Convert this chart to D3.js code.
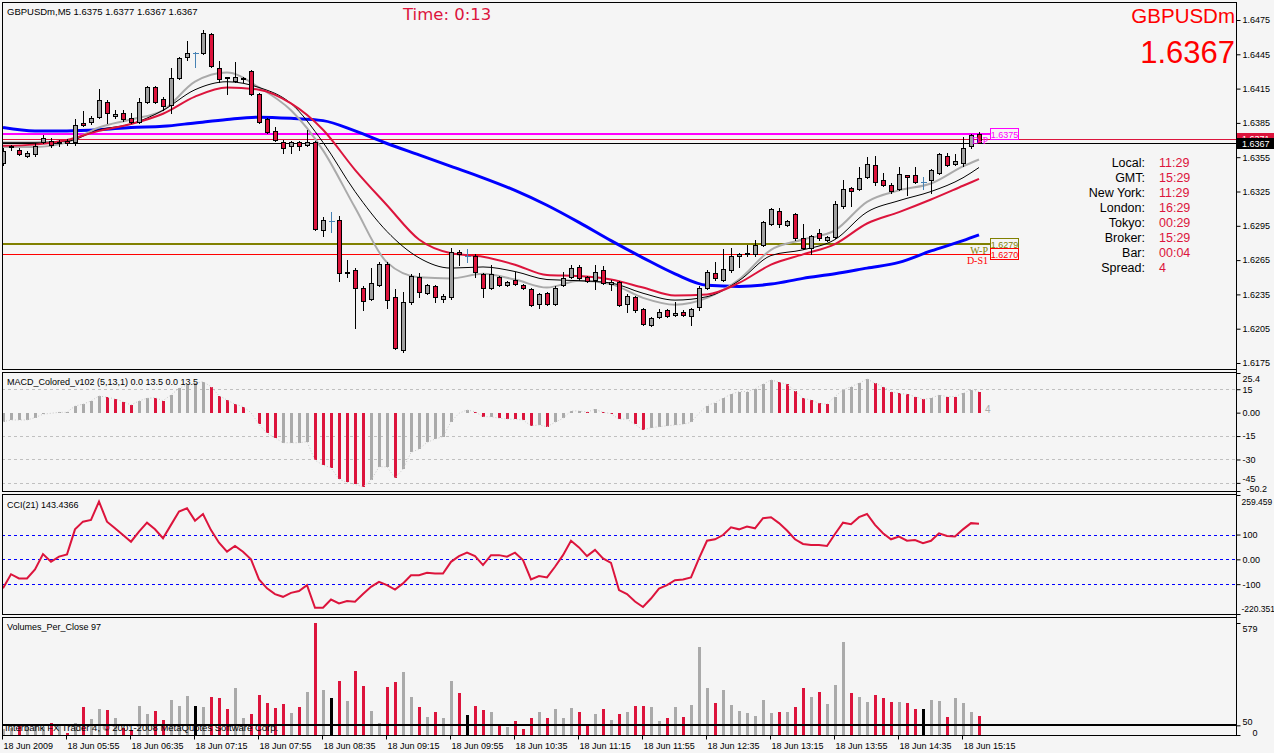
<!DOCTYPE html>
<html>
<head>
<meta charset="utf-8">
<title>GBPUSDm,M5</title>
<script src="https://cdn.jsdelivr.net/npm/d3@7"></script>
<style>
  html, body { margin: 0; padding: 0; background: #f5f5f5; }
  svg { display: block; }
  text { font-family: "Liberation Sans", Arial, sans-serif; }
  .axis text { font-size: 9px; fill: #000; }
  .axis line { stroke: #000; }
</style>
</head>
<body>
<div id="chart"></div>
<script>
// ---------------- data ----------------
const symbol = "GBPUSDm";
const headerText = "GBPUSDm,M5  1.6375 1.6377 1.6367 1.6367";
const timerText = "Time: 0:13";
const bid = 1.6367;
const ask = 1.6371;

// M5 candles [open, high, low, close], 18 Jun 2009 05:15 .. 15:25
const candles = [
  [1.6350,1.6363,1.6348,1.6360],[1.6364,1.6366,1.6361,1.6365],[1.6361,1.6363,1.6357,1.6358],[1.6356,1.6360,1.6355,1.6359],
  [1.6358,1.6367,1.6356,1.6365],[1.6368,1.6374,1.6367,1.6372],[1.6369,1.6372,1.6364,1.6366],[1.6367,1.6370,1.6365,1.6368],
  [1.6369,1.6371,1.6366,1.6367],[1.6368,1.6388,1.6366,1.6383],[1.6385,1.6395,1.6382,1.6383],[1.6386,1.6391,1.6384,1.6389],
  [1.6390,1.6415,1.6389,1.6405],[1.6403,1.6405,1.6385,1.6394],[1.6391,1.6396,1.6389,1.6393],[1.6394,1.6396,1.6387,1.6388],
  [1.6389,1.6394,1.6385,1.6386],[1.6386,1.6407,1.6385,1.6403],[1.6403,1.6417,1.6402,1.6416],[1.6416,1.6417,1.6402,1.6403],
  [1.6406,1.6408,1.6396,1.6400],[1.6401,1.6433,1.6394,1.6424],[1.6424,1.6443,1.6423,1.6442],[1.6443,1.6457,1.6440,1.6446],
  [1.6446,1.6447,1.6434,1.6446],[1.6446,1.6466,1.6445,1.6464],[1.6463,1.6464,1.6434,1.6435],[1.6433,1.6439,1.6421,1.6423],
  [1.6425,1.6425,1.6410,1.6424],[1.6422,1.6438,1.6421,1.6425],[1.6423,1.6425,1.6421,1.6424],[1.6430,1.6431,1.6409,1.6410],
  [1.6410,1.6411,1.6385,1.6386],[1.6388,1.6389,1.6376,1.6377],[1.6378,1.6381,1.6369,1.6370],[1.6368,1.6370,1.6359,1.6363],
  [1.6365,1.6369,1.6359,1.6368],[1.6368,1.6369,1.6361,1.6365],[1.6366,1.6379,1.6365,1.6368],[1.6368,1.6369,1.6291,1.6292],
  [1.6291,1.6303,1.6286,1.6300],[1.6299,1.6307,1.6290,1.6299],[1.6300,1.6304,1.6247,1.6254],[1.6254,1.6265,1.6250,1.6255],
  [1.6256,1.6258,1.6206,1.6241],[1.6241,1.6242,1.6221,1.6229],[1.6231,1.6258,1.6230,1.6245],[1.6243,1.6263,1.6242,1.6262],
  [1.6262,1.6263,1.6223,1.6230],[1.6233,1.6240,1.6187,1.6188],[1.6186,1.6237,1.6185,1.6228],[1.6228,1.6253,1.6227,1.6251],
  [1.6250,1.6254,1.6233,1.6237],[1.6236,1.6244,1.6235,1.6243],[1.6242,1.6243,1.6228,1.6233],[1.6231,1.6235,1.6228,1.6234],
  [1.6233,1.6276,1.6231,1.6272],[1.6272,1.6274,1.6261,1.6270],[1.6269,1.6275,1.6263,1.6269],[1.6269,1.6270,1.6250,1.6255],
  [1.6253,1.6254,1.6233,1.6241],[1.6241,1.6261,1.6240,1.6253],[1.6250,1.6251,1.6242,1.6243],[1.6243,1.6247,1.6242,1.6246],
  [1.6248,1.6255,1.6243,1.6244],[1.6243,1.6244,1.6240,1.6241],[1.6240,1.6241,1.6225,1.6226],[1.6227,1.6236,1.6223,1.6235],
  [1.6236,1.6237,1.6226,1.6227],[1.6227,1.6242,1.6226,1.6241],[1.6243,1.6255,1.6242,1.6249],[1.6250,1.6261,1.6249,1.6258],
  [1.6259,1.6261,1.6248,1.6249],[1.6250,1.6251,1.6246,1.6247],[1.6248,1.6261,1.6240,1.6255],[1.6256,1.6260,1.6244,1.6245],
  [1.6244,1.6248,1.6239,1.6246],[1.6246,1.6247,1.6225,1.6226],[1.6227,1.6235,1.6220,1.6234],[1.6233,1.6234,1.6220,1.6221],
  [1.6222,1.6223,1.6208,1.6209],[1.6208,1.6215,1.6207,1.6214],[1.6215,1.6222,1.6214,1.6220],[1.6221,1.6222,1.6215,1.6216],
  [1.6217,1.6228,1.6216,1.6219],[1.6220,1.6221,1.6216,1.6217],[1.6216,1.6223,1.6208,1.6222],[1.6224,1.6242,1.6221,1.6241],
  [1.6241,1.6256,1.6240,1.6255],[1.6254,1.6263,1.6248,1.6249],[1.6248,1.6275,1.6247,1.6257],[1.6256,1.6276,1.6255,1.6269],
  [1.6269,1.6271,1.6259,1.6270],[1.6270,1.6278,1.6269,1.6271],[1.6270,1.6283,1.6269,1.6278],[1.6278,1.6299,1.6277,1.6298],
  [1.6297,1.6311,1.6296,1.6310],[1.6308,1.6311,1.6294,1.6297],[1.6296,1.6300,1.6295,1.6299],[1.6305,1.6306,1.6283,1.6284],
  [1.6284,1.6297,1.6275,1.6276],[1.6276,1.6287,1.6270,1.6286],[1.6289,1.6292,1.6283,1.6284],[1.6283,1.6286,1.6282,1.6285],
  [1.6285,1.6317,1.6284,1.6314],[1.6312,1.6335,1.6311,1.6327],[1.6328,1.6329,1.6312,1.6325],[1.6327,1.6346,1.6326,1.6337],
  [1.6338,1.6355,1.6337,1.6349],[1.6348,1.6356,1.6331,1.6333],[1.6335,1.6341,1.6330,1.6331],[1.6331,1.6332,1.6324,1.6325],
  [1.6327,1.6346,1.6326,1.6340],[1.6339,1.6339,1.6322,1.6338],[1.6339,1.6346,1.6332,1.6333],[1.6333,1.6338,1.6327,1.6333],
  [1.6335,1.6345,1.6324,1.6344],[1.6341,1.6359,1.6340,1.6358],[1.6356,1.6359,1.6347,1.6348],[1.6349,1.6358,1.6348,1.6352],
  [1.6350,1.6373,1.6347,1.6363],[1.6365,1.6375,1.6363,1.6374],[1.6375,1.6377,1.6367,1.6367]
];

// moving averages, read every 4th bar
const maIndex = [0,4,8,12,16,20,24,28,32,36,40,44,48,52,56,60,64,68,72,76,80,84,88,92,96,100,104,108,112,116,120,122];
const maFast = [1.6364,1.6364,1.6368,1.6381,1.6388,1.6396,1.6421,1.6429,1.6416,1.6396,1.6361,1.6311,1.6263,1.6250,1.6249,1.6253,
                1.6248,1.6241,1.6247,1.6244,1.6232,1.6226,1.6232,1.6248,1.6274,1.6283,1.6291,1.6316,1.6326,1.6332,1.6347,1.6353];
const maMid  = [1.6368,1.6368,1.6369,1.6379,1.6384,1.6396,1.6414,1.6421,1.6416,1.6402,1.6368,1.6325,1.6290,1.6267,1.6258,1.6259,
                1.6255,1.6248,1.6247,1.6245,1.6236,1.6230,1.6233,1.6247,1.6269,1.6274,1.6283,1.6307,1.6317,1.6325,1.6337,1.6346];
const maSlow = [1.6365,1.6366,1.6370,1.6378,1.6384,1.6393,1.6408,1.6416,1.6414,1.6402,1.6379,1.6344,1.6313,1.6283,1.6271,1.6268,
                1.6261,1.6252,1.6251,1.6248,1.6241,1.6234,1.6235,1.6245,1.6261,1.6270,1.6279,1.6297,1.6307,1.6318,1.6330,1.6336];
const maLong = [1.6381,1.6378,1.6378,1.6379,1.6381,1.6382,1.6385,1.6388,1.6390,1.6389,1.6387,1.6378,1.6367,1.6357,1.6347,1.6337,
                1.6326,1.6313,1.6298,1.6282,1.6267,1.6253,1.6243,1.6242,1.6244,1.6249,1.6253,1.6258,1.6263,1.6273,1.6282,1.6287];

const pivotNames = ["D-P", "W-P", "D-S1"];
const pivotValues = [1.6375, 1.6279, 1.6270];

const priceTicks = [1.6475,1.6445,1.6415,1.6385,1.6355,1.6325,1.6295,1.6265,1.6235,1.6205,1.6175];

const macd = [
  -5.8,-4.7,-4.7,-4.7,-3.2,-1.0,-0.4,0.2,0.2,4.3,
  5.4,7.5,10.7,9.9,8.8,7.1,4.9,7.5,9.2,9.6,
  7.7,11.3,15.6,17.8,18.8,19.9,16.7,10.9,8.1,5.4,
  3.9,0.0,-7.5,-13.3,-16.1,-19.3,-19.3,-19.3,-18.6,-30.4,
  -33.6,-35.3,-42.6,-44.7,-46.0,-47.5,-43.3,-34.7,-34.7,-41.8,
  -36.2,-25.5,-23.3,-19.1,-16.9,-15.4,-5.8,-0.4,1.7,0.6,
  -2.6,-2.6,-3.6,-4.1,-4.3,-4.7,-8.4,-7.9,-9.0,-6.2,
  -3.6,1.1,1.1,0.4,2.1,0.2,-0.6,-4.3,-4.1,-7.5,
  -11.1,-9.6,-9.0,-8.4,-7.9,-7.5,-6.2,-0.4,4.5,6.4,
  9.2,11.8,13.5,13.5,15.2,18.2,21.0,19.5,18.2,13.9,
  9.2,8.1,6.0,5.4,10.3,14.6,16.7,18.8,21.6,18.8,
  16.7,13.5,12.4,11.8,10.3,8.6,9.2,11.3,10.3,10.3,
  12.4,14.6,13.5
];
// u = rising (grey), d = falling (red)
const macdDir = "uuuuuuduuu" + "uuudddduud" + "duuuuudddd" + "ddddduuuud" + "dddddduuud" +
                "uuuuuuuuud" + "dudddddudu" + "uuududddud" + "duuuuuuuuu" + "uuuuuuuddd" +
                "dddduuuuud" + "dddddduudd" + "uud";
const macdTicks = [25.4, 15, 0, -15, -30, -45, -50.2];
const macdTickLabels = ["25.4", "15", "0.00", "-15", "-30", "-45", "-50.2"];
const macdLevels = [15, -15, -30, -45];

const cci = [
  -117,-60,-77,-77,-41,21,-10,11,20,121,
  152,159,233,152,125,98,71,112,148,121,
  85,139,193,206,156,183,118,67,31,54,
  31,0,-81,-117,-140,-151,-135,-128,-104,-195,
  -195,-162,-178,-168,-171,-140,-111,-91,-104,-122,
  -97,-64,-64,-54,-57,-57,-10,13,27,13,
  -23,17,17,11,27,-3,-81,-67,-73,-30,
  17,75,48,13,38,4,-14,-124,-140,-170,
  -192,-158,-118,-104,-84,-81,-73,4,75,81,
  98,129,121,132,125,166,170,146,116,81,
  62,58,58,54,102,148,142,170,183,139,
  105,81,92,75,78,65,75,105,94,92,
  121,146,143.4
];
const cciTicks = [259.459, 100, 0, -100, -220.351];
const cciTickLabels = ["259.459", "100", "0.00", "-100", "-220.351"];
const cciLevels = [100, 0, -100];

const volumes = [
  30,35,52,40,45,40,60,45,9,60,
  146,83,134,129,90,34,26,150,109,126,
  78,181,152,202,150,146,196,193,133,243,
  86,109,207,165,141,160,115,146,224,579,
  233,191,279,176,331,253,124,60,250,274,
  326,198,146,95,119,88,279,217,103,150,
  129,117,57,43,72,31,88,119,86,134,
  86,140,119,57,109,134,78,109,119,150,
  150,146,72,88,146,93,155,455,243,165,
  233,155,124,114,98,181,114,119,119,145,
  243,198,222,160,258,481,217,198,171,207,
  191,171,169,167,134,134,181,176,95,191,
  165,119,98
];
const volTicks = [579, 50, 0];
const volLevel = 50;

const timeTickIndex = [0,8,16,24,32,40,48,56,64,72,80,88,96,104,112,120];
const timeTickLabels = ["18 Jun 2009","18 Jun 05:55","18 Jun 06:35","18 Jun 07:15","18 Jun 07:55","18 Jun 08:35",
  "18 Jun 09:15","18 Jun 09:55","18 Jun 10:35","18 Jun 11:15","18 Jun 11:55","18 Jun 12:35","18 Jun 13:15",
  "18 Jun 13:55","18 Jun 14:35","18 Jun 15:15"];

const infoLabels = ["Local:", "GMT:", "New York:", "London:", "Tokyo:", "Broker:", "Bar:", "Spread:"];
const infoValues = ["11:29", "15:29", "11:29", "16:29", "00:29", "15:29", "00:04", "4"];

const macdTitle = "MACD_Colored_v102 (5,13,1) 0.0 13.5 0.0 13.5";
const cciTitle = "CCI(21) 143.4366";
const volTitle = "Volumes_Per_Close 97";
const copyright = "Interbank FX Trader 4, \u00a9 2001-2008 MetaQuotes Software Corp.";

// ---------------- layout ----------------
const W = 1274, H = 753;
const left = 2, right = 1236;
const panels = {
  main: { top: 2, bottom: 369 },
  macd: { top: 372, bottom: 491 },
  cci:  { top: 494, bottom: 614 },
  vol:  { top: 617, bottom: 735 }
};
const CRIMSON = "#dc143c", BG = "#f5f5f5";

const svg = d3.select("#chart").append("svg")
  .attr("width", W).attr("height", H)
  .style("background", BG);

const x = d3.scaleLinear().domain([0, 122]).range([3, 979]);
const yPrice = d3.scaleLinear().domain([1.6175, 1.6475]).range([363, 20]);
const yMacd = d3.scaleLinear().domain([-50.2, 25.4]).range([491, 373]);
const yCci = d3.scaleLinear().domain([-220.351, 259.459]).range([614, 495]);
const yVol = d3.scaleLinear().domain([0, 579]).range([735, 623]);

// clip paths
const defs = svg.append("defs");
Object.entries(panels).forEach(([k, p]) => {
  defs.append("clipPath").attr("id", "clip-" + k)
    .append("rect").attr("x", left + 1).attr("y", p.top + 1)
    .attr("width", right - left - 1).attr("height", p.bottom - p.top - 1);
});
const layer = k => svg.append("g").attr("clip-path", `url(#clip-${k})`);

// panel frames
Object.values(panels).forEach(p => {
  svg.append("rect")
    .attr("x", left + 0.5).attr("y", p.top + 0.5)
    .attr("width", right - left).attr("height", p.bottom - p.top)
    .attr("fill", BG).attr("stroke", "#000").attr("shape-rendering", "crispEdges");
});

// ---------------- main panel ----------------
const main = layer("main");

// bid / ask lines
main.append("line").attr("x1", left).attr("x2", right)
  .attr("y1", Math.round(yPrice(ask)) + 0.5).attr("y2", Math.round(yPrice(ask)) + 0.5)
  .attr("stroke", CRIMSON);
main.append("line").attr("x1", left).attr("x2", right)
  .attr("y1", Math.round(yPrice(bid)) + 0.5).attr("y2", Math.round(yPrice(bid)) + 0.5)
  .attr("stroke", "#000");

// pivot lines
const pivotColor = { "D-P": "#ff00ff", "W-P": "#808000", "D-S1": "#ff0000" };
const pivotWidth = { "D-P": 2, "W-P": 2, "D-S1": 1 };
pivotNames.forEach((n, k) => {
  const yy = Math.round(yPrice(pivotValues[k])) + (pivotWidth[n] === 1 ? 0.5 : 0);
  main.append("line").attr("x1", left).attr("x2", 990)
    .attr("y1", yy).attr("y2", yy)
    .attr("stroke", pivotColor[n]).attr("stroke-width", pivotWidth[n]);
});

// moving averages
const maLine = d3.line()
  .x((d, k) => x(maIndex[k]))
  .y(d => yPrice(d))
  .curve(d3.curveMonotoneX);
[[maLong, "#0000ff", 3], [maFast, "#aaaaaa", 2], [maMid, "#000", 1], [maSlow, CRIMSON, 2]]
  .forEach(([vals, col, w]) => {
    main.append("path").datum(vals).attr("d", maLine)
      .attr("fill", "none").attr("stroke", col).attr("stroke-width", w);
  });

// candles
const cg = main.append("g").attr("shape-rendering", "crispEdges");
candles.forEach((c, i) => {
  const [o, h, l, cl] = c;
  const cx = Math.round(x(i)) + 0.5;
  const doji = o === cl;
  cg.append("line").attr("x1", cx).attr("x2", cx)
    .attr("y1", yPrice(h)).attr("y2", yPrice(l) + 1)
    .attr("stroke", doji ? "steelblue" : "#000");
  if (doji) {
    cg.append("line").attr("x1", cx - 3).attr("x2", cx + 3)
      .attr("y1", Math.round(yPrice(o)) + 0.5).attr("y2", Math.round(yPrice(o)) + 0.5)
      .attr("stroke", "steelblue");
  } else {
    const top = Math.round(yPrice(Math.max(o, cl)));
    const bot = Math.round(yPrice(Math.min(o, cl)));
    cg.append("rect").attr("x", cx - 2).attr("y", top + 0.5)
      .attr("width", 4).attr("height", Math.max(bot - top, 1))
      .attr("fill", cl > o ? "#a0a0a0" : CRIMSON)
      .attr("stroke", "#000");
  }
});

// pivot labels
pivotNames.forEach((n, k) => {
  const yy = yPrice(pivotValues[k]);
  svg.append("text").attr("x", 988).attr("y", yy + 10)
    .attr("text-anchor", "end").attr("fill", pivotColor[n])
    .style("font-family", '"Liberation Serif", "Times New Roman", serif')
    .style("font-size", "10px").text(n);
  svg.append("rect").attr("x", 990.5).attr("y", Math.round(yy) - 5.5)
    .attr("width", 28).attr("height", 11)
    .attr("fill", BG).attr("stroke", pivotColor[n]);
  svg.append("text").attr("x", 1004.5).attr("y", Math.round(yy) + 3.5)
    .attr("text-anchor", "middle").attr("fill", pivotColor[n])
    .style("font-size", "9px").text(pivotValues[k].toFixed(4));
});

// price axis
const priceAxis = svg.append("g").attr("class", "axis")
  .attr("transform", `translate(${right + 0.5},0)`)
  .call(d3.axisRight(yPrice).tickValues(priceTicks).tickFormat(d3.format(".4f")).tickSize(4).tickPadding(2));
priceAxis.select(".domain").remove();

// bid / ask axis labels (ask sits just above, mostly covered by the bid box)
[[ask, CRIMSON, -1], [bid, "#000", 0]].forEach(([v, col, shift]) => {
  const yy = Math.round(yPrice(v)) + shift;
  svg.append("rect").attr("x", right + 1).attr("y", yy - 5)
    .attr("width", W - right - 1).attr("height", 11).attr("fill", col);
  svg.append("text").attr("x", right + 6).attr("y", yy + 4)
    .attr("fill", "#fff").style("font-size", "9px").text(v.toFixed(4));
});

// header texts
svg.append("text").attr("x", 7).attr("y", 15).style("font-size", "9.5px").attr("fill", "#000").text(headerText);
svg.append("text").attr("x", 403).attr("y", 20).attr("fill", CRIMSON)
  .style("font-family", '"DejaVu Sans", Verdana, sans-serif').style("font-size", "16.5px").text(timerText);
svg.append("text").attr("x", 1235).attr("y", 23).attr("text-anchor", "end").attr("fill", "#ff0000")
  .style("font-size", "20.5px").text(symbol);
svg.append("text").attr("x", 1235).attr("y", 63).attr("text-anchor", "end").attr("fill", "#ff0000")
  .style("font-size", "31px").text(bid.toFixed(4));

// info table
infoLabels.forEach((lab, k) => {
  const yy = 167 + 15 * k;
  svg.append("text").attr("x", 1145).attr("y", yy).attr("text-anchor", "end")
    .style("font-size", "12.5px").attr("fill", "#000").text(lab);
  svg.append("text").attr("x", 1159).attr("y", yy)
    .style("font-size", "12.5px").attr("fill", CRIMSON).text(infoValues[k]);
});

// ---------------- MACD ----------------
const mg = layer("macd");
macdLevels.forEach(v => {
  mg.append("line").attr("x1", left).attr("x2", right)
    .attr("y1", Math.round(yMacd(v)) + 0.5).attr("y2", Math.round(yMacd(v)) + 0.5)
    .attr("stroke", "#c0c0c0").attr("stroke-dasharray", "3,3")
    .attr("shape-rendering", "crispEdges");
});
mg.append("g").attr("shape-rendering", "crispEdges")
  .selectAll("rect").data(macd).join("rect")
  .attr("x", (d, i) => Math.round(x(i)) - 1)
  .attr("y", d => Math.min(yMacd(d), yMacd(0)))
  .attr("width", 3)
  .attr("height", d => Math.max(Math.abs(yMacd(d) - yMacd(0)), 0.5))
  .attr("fill", (d, i) => macdDir[i] === "d" ? CRIMSON : "#aaaaaa");
mg.append("path").datum(macd)
  .attr("d", d3.line().x((d, i) => x(i)).y(d => yMacd(d)))
  .attr("fill", "none").attr("stroke", "#c8c8c8").attr("stroke-dasharray", "1,2");
svg.append("text").attr("x", 985).attr("y", 413).attr("fill", "#aaaaaa")
  .style("font-size", "10px").text("4");
svg.append("text").attr("x", 7).attr("y", 385).style("font-size", "9px").text(macdTitle);

const macdAxis = svg.append("g").attr("class", "axis")
  .attr("transform", `translate(${right + 0.5},0)`)
  .call(d3.axisRight(yMacd).tickValues(macdTicks)
    .tickFormat((d, k) => macdTickLabels[k]).tickSize(4).tickPadding(2));
macdAxis.select(".domain").remove();
macdAxis.selectAll(".tick").filter(d => d === 25.4).select("text").attr("dy", "0.9em");
macdAxis.selectAll(".tick").filter(d => d === -45).select("text").attr("dy", "-0.1em");
macdAxis.selectAll(".tick").filter(d => d === -50.2).select("text").attr("dy", "0.1em").attr("dx", "4px");

// ---------------- CCI ----------------
const ccg = layer("cci");
cciLevels.forEach(v => {
  ccg.append("line").attr("x1", left).attr("x2", right)
    .attr("y1", Math.round(yCci(v)) + 0.5).attr("y2", Math.round(yCci(v)) + 0.5)
    .attr("stroke", "#0000ff").attr("stroke-dasharray", "3,3")
    .attr("shape-rendering", "crispEdges");
});
ccg.append("path").datum(cci)
  .attr("d", d3.line().x((d, i) => x(i)).y(d => yCci(d)))
  .attr("fill", "none").attr("stroke", CRIMSON).attr("stroke-width", 2);
svg.append("text").attr("x", 7).attr("y", 508).style("font-size", "9px").text(cciTitle);

const cciAxis = svg.append("g").attr("class", "axis")
  .attr("transform", `translate(${right + 0.5},0)`)
  .call(d3.axisRight(yCci).tickValues(cciTicks)
    .tickFormat((d, k) => cciTickLabels[k]).tickSize(4).tickPadding(2));
cciAxis.select(".domain").remove();
cciAxis.selectAll(".tick").filter(d => d === 259.459).select("text")
  .attr("dy", "1.1em").attr("dx", "-1px").style("font-size", "8.5px");
cciAxis.selectAll(".tick").filter(d => d === -220.351).select("text")
  .attr("dy", "-0.3em").attr("dx", "-1px").style("font-size", "8.5px");

// ---------------- volumes ----------------
const vg = layer("vol");
vg.append("g").attr("shape-rendering", "crispEdges")
  .selectAll("rect").data(volumes).join("rect")
  .attr("x", (d, i) => Math.round(x(i)) - 1)
  .attr("y", d => yVol(d))
  .attr("width", 3)
  .attr("height", d => yVol(0) - yVol(d))
  .attr("fill", (d, i) => {
    const [o, , , c] = candles[i];
    return c > o ? "#aaaaaa" : c < o ? CRIMSON : "#000";
  });
vg.append("line").attr("x1", left).attr("x2", right)
  .attr("y1", Math.round(yVol(volLevel))).attr("y2", Math.round(yVol(volLevel)))
  .attr("stroke", "#000").attr("stroke-width", 2);
svg.append("text").attr("x", 7).attr("y", 630).style("font-size", "9px").text(volTitle);
svg.append("text").attr("x", 5).attr("y", 731).style("font-size", "9.5px").text(copyright);

const volAxis = svg.append("g").attr("class", "axis")
  .attr("transform", `translate(${right + 0.5},0)`)
  .call(d3.axisRight(yVol).tickValues(volTicks).tickFormat(d3.format("d")).tickSize(4).tickPadding(2));
volAxis.select(".domain").remove();
volAxis.selectAll(".tick").filter(d => d === 579).select("text").attr("dy", "0.9em");
volAxis.selectAll(".tick").filter(d => d === 50).select("text").attr("dy", "-0.05em");
volAxis.selectAll(".tick").filter(d => d === 0).select("text").attr("dy", "0.05em").attr("dx", "10px");

// right axis vertical line
svg.append("line").attr("x1", right + 0.5).attr("x2", right + 0.5)
  .attr("y1", 2).attr("y2", 736).attr("stroke", "#000");

// ---------------- time axis ----------------
const timeAxis = svg.append("g").attr("class", "axis")
  .attr("transform", "translate(-1,735.5)")
  .call(d3.axisBottom(x).tickValues(timeTickIndex)
    .tickFormat((d, k) => timeTickLabels[k]).tickSize(4).tickPadding(3));
timeAxis.select(".domain").remove();
timeAxis.selectAll(".tick text").attr("text-anchor", "start").attr("dx", "1px");
</script>
</body>
</html>
